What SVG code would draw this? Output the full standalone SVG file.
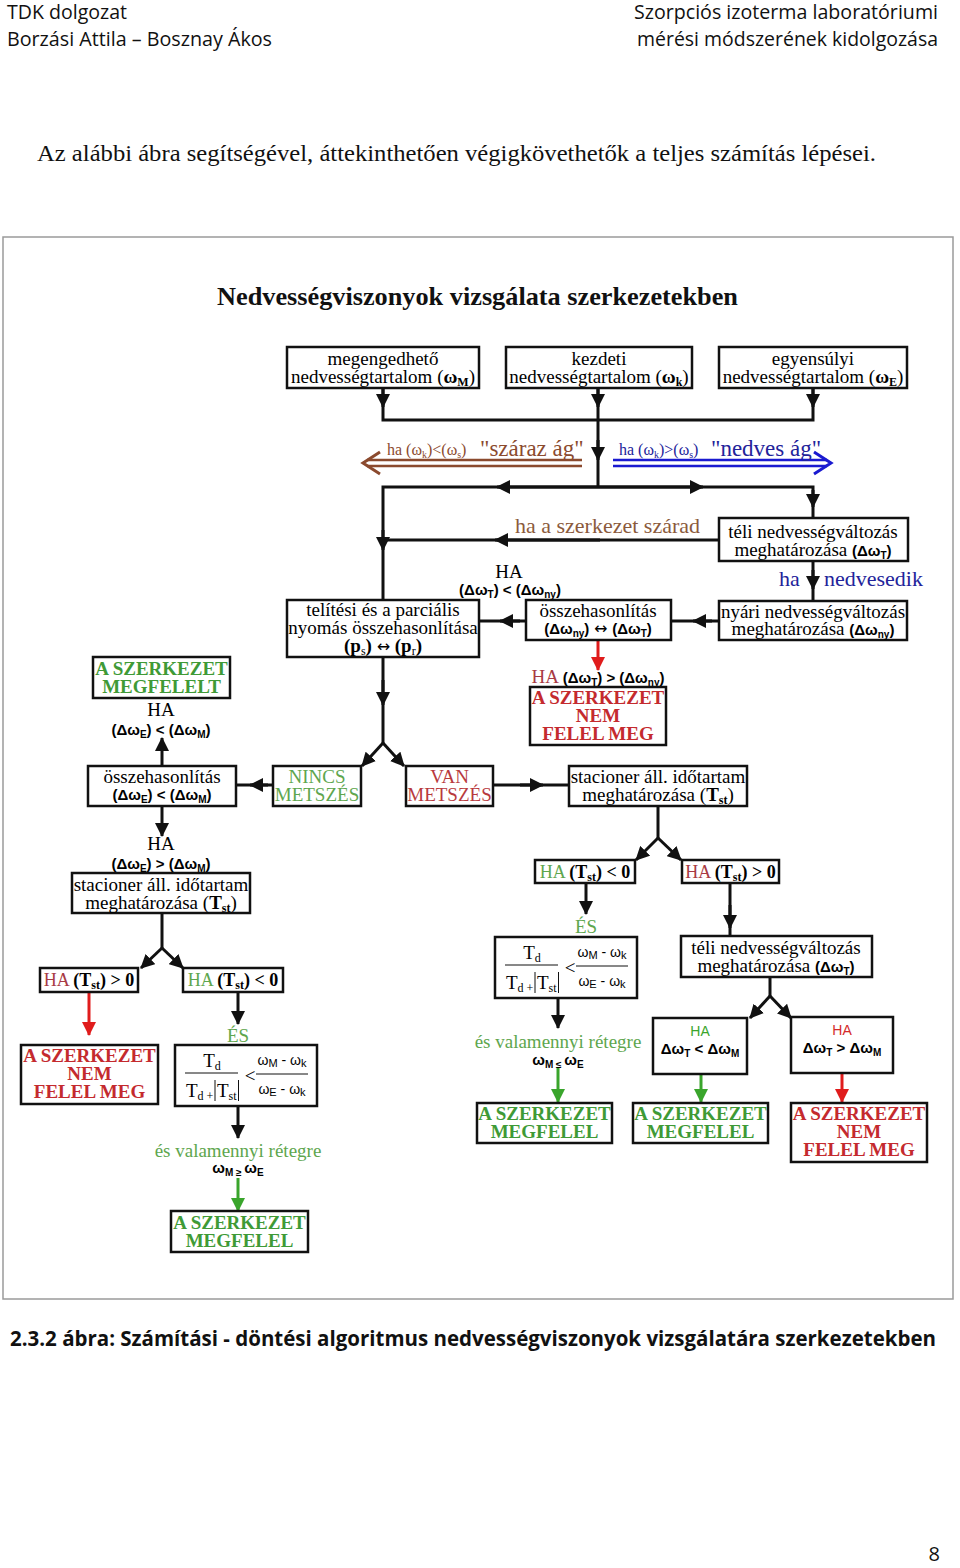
<svg xmlns="http://www.w3.org/2000/svg" width="960" height="1568" viewBox="0 0 960 1568">
<style>
.s{font-family:"Liberation Serif",serif;font-size:19px;text-anchor:middle}
.b{font-family:"Liberation Sans",sans-serif;font-weight:bold;font-size:15px}
.f{font-family:"Liberation Sans",sans-serif;font-size:14px}
.arr{font-family:"DejaVu Sans",sans-serif;font-size:16px;font-weight:normal}
.box{fill:#fff;stroke:#111;stroke-width:2.5}
.c{stroke:#111;stroke-width:3;fill:none}
.cr{stroke:#e01c1c;stroke-width:3;fill:none}
.cg{stroke:#3aa52c;stroke-width:3;fill:none}
.ok{fill:#3f9a36;font-weight:bold}
.no{fill:#c42a2e;font-weight:bold}
.gr{fill:#5ea64e}
.rd{fill:#b83a3e}
.hd{font-family:"Open Sans","Liberation Sans",sans-serif;font-size:20px;fill:#111}
</style>
<defs>
<marker id="ah" markerUnits="userSpaceOnUse" viewBox="0 0 14 14" markerWidth="14" markerHeight="14" refX="13" refY="7" orient="auto"><path d="M0,0 L14,7 L0,14 Z" fill="#111"/></marker>
<marker id="ahr" markerUnits="userSpaceOnUse" viewBox="0 0 14 14" markerWidth="14" markerHeight="14" refX="13" refY="7" orient="auto"><path d="M0,0 L14,7 L0,14 Z" fill="#e01c1c"/></marker>
<marker id="ahg" markerUnits="userSpaceOnUse" viewBox="0 0 14 14" markerWidth="14" markerHeight="14" refX="13" refY="7" orient="auto"><path d="M0,0 L14,7 L0,14 Z" fill="#3aa52c"/></marker>
</defs>
<rect width="960" height="1568" fill="#fff"/>

<g id="header">
<text class="hd" x="7" y="19" textLength="120" lengthAdjust="spacingAndGlyphs">TDK dolgozat</text>
<text class="hd" x="7" y="46" textLength="265" lengthAdjust="spacingAndGlyphs">Borzási Attila – Bosznay Ákos</text>
<text class="hd" x="634" y="19" textLength="304" lengthAdjust="spacingAndGlyphs">Szorpciós izoterma laboratóriumi</text>
<text class="hd" x="637" y="46" textLength="301" lengthAdjust="spacingAndGlyphs">mérési módszerének kidolgozása</text>
<text x="37" y="161" font-family="Liberation Serif,serif" font-size="24" fill="#111" textLength="839" lengthAdjust="spacingAndGlyphs">Az alábbi ábra segítségével, áttekinthetően végigkövethetők a teljes számítás lépései.</text>
</g>

<rect id="frame" x="3" y="237" width="950" height="1062" fill="none" stroke="#9a9a9a" stroke-width="1.5"/>

<text id="title" x="217" y="305" font-family="Liberation Serif,serif" font-weight="bold" font-size="26" fill="#111" textLength="521" lengthAdjust="spacingAndGlyphs">Nedvességviszonyok vizsgálata szerkezetekben</text>

<g id="connectors">
<path class="c" d="M383,388 V420 H813 V388"/>
<path class="c" d="M598,388 V487"/>
<path class="c" d="M383,389 V407" marker-end="url(#ah)"/>
<path class="c" d="M598,389 V407" marker-end="url(#ah)"/>
<path class="c" d="M813,389 V407" marker-end="url(#ah)"/>
<path class="c" d="M598,440 V460" marker-end="url(#ah)"/>
<path class="c" d="M383,600 V487 H813 V518"/>
<path class="c" d="M598,487 H497" marker-end="url(#ah)"/>
<path class="c" d="M598,487 H703" marker-end="url(#ah)"/>
<path class="c" d="M813,490 V507" marker-end="url(#ah)"/>
<path class="c" d="M719,540 H383"/>
<path class="c" d="M600,540 H495" marker-end="url(#ah)"/>
<path class="c" d="M383,530 V550" marker-end="url(#ah)"/>
<path class="c" d="M813,561 V601"/>
<path class="c" d="M813,570 V589" marker-end="url(#ah)"/>
<path class="c" d="M719,621 H671"/>
<path class="c" d="M712,621 H693" marker-end="url(#ah)"/>
<path class="c" d="M526,621 H479"/>
<path class="c" d="M520,621 H500" marker-end="url(#ah)"/>
<path class="cr" d="M598,640 V670" marker-end="url(#ahr)"/>
<path class="c" d="M383,657 V743"/>
<path class="c" d="M383,680 V705" marker-end="url(#ah)"/>
<path class="c" d="M383,743 L362,766" marker-end="url(#ah)"/>
<path class="c" d="M383,743 L404,766" marker-end="url(#ah)"/>
<path class="c" d="M273,785 H236"/>
<path class="c" d="M268,785 H250" marker-end="url(#ah)"/>
<path class="c" d="M162,766 V738" marker-end="url(#ah)"/>
<path class="c" d="M162,806 V836" marker-end="url(#ah)"/>
<path class="c" d="M493,785 H569"/>
<path class="c" d="M520,785 H543" marker-end="url(#ah)"/>
<path class="c" d="M162,913 V948"/>
<path class="c" d="M162,948 L141,968" marker-end="url(#ah)"/>
<path class="c" d="M162,948 L183,968" marker-end="url(#ah)"/>
<path class="cr" d="M89,992 V1035" marker-end="url(#ahr)"/>
<path class="c" d="M238,992 V1024" marker-end="url(#ah)"/>
<path class="c" d="M238,1106 V1138" marker-end="url(#ah)"/>
<path class="cg" d="M238,1178 V1211" marker-end="url(#ahg)"/>
<path class="c" d="M658,806 V838"/>
<path class="c" d="M658,838 L636,860" marker-end="url(#ah)"/>
<path class="c" d="M658,838 L681,860" marker-end="url(#ah)"/>
<path class="c" d="M586,883 V914" marker-end="url(#ah)"/>
<path class="c" d="M730,883 V936"/>
<path class="c" d="M730,905 V928" marker-end="url(#ah)"/>
<path class="c" d="M558,998 V1028" marker-end="url(#ah)"/>
<path class="cg" d="M558,1068 V1102" marker-end="url(#ahg)"/>
<path class="c" d="M770,977 V996"/>
<path class="c" d="M770,996 L750,1018" marker-end="url(#ah)"/>
<path class="c" d="M770,996 L791,1018" marker-end="url(#ah)"/>
<path class="cg" d="M701,1074 V1102" marker-end="url(#ahg)"/>
<path class="cr" d="M842,1073 V1102" marker-end="url(#ahr)"/>
</g>

<g id="branch-dry">
<path d="M582,460 H367 M582,466 H367" stroke="#8b4a2e" stroke-width="2.5" fill="none"/>
<polyline points="380,452 363,463 380,474" stroke="#8b4a2e" stroke-width="3" fill="none"/>
<text x="387" y="455" font-family="Liberation Serif,serif" font-size="16" fill="#8b4a2e">ha (ω<tspan font-size="10" dy="3">k</tspan><tspan dy="-3">)&lt;(ω</tspan><tspan font-size="10" dy="3">s</tspan><tspan dy="-3">)</tspan></text>
<text x="480" y="456" font-family="Liberation Serif,serif" font-size="23" fill="#8b4a2e">"száraz ág"</text>
</g>
<g id="branch-wet">
<path d="M613,460 H827 M613,466 H827" stroke="#1a1ad0" stroke-width="2.5" fill="none"/>
<polyline points="814,452 831,463 814,474" stroke="#1a1ad0" stroke-width="3" fill="none"/>
<text x="619" y="455" font-family="Liberation Serif,serif" font-size="16" fill="#23239a">ha (ω<tspan font-size="10" dy="3">k</tspan><tspan dy="-3">)&gt;(ω</tspan><tspan font-size="10" dy="3">s</tspan><tspan dy="-3">)</tspan></text>
<text x="711" y="456" font-family="Liberation Serif,serif" font-size="23" fill="#23239a">"nedves ág"</text>
</g>
<text id="lbl-szarad" x="515" y="533" font-family="Liberation Serif,serif" font-size="22" fill="#8b5a3c">ha a szerkezet szárad</text>
<g id="lbl-nedvesedik" font-family="Liberation Serif,serif" font-size="22" fill="#23239a">
<text x="779" y="586">ha</text><text x="824" y="586">nedvesedik</text>
</g>

<g id="n-wM"><rect class="box" x="287" y="347" width="192" height="41"/>
<text class="s" x="383" y="365">megengedhető</text>
<text class="s" x="383" y="383">nedvességtartalom (<tspan font-weight="bold">ω</tspan><tspan font-size="12" font-weight="bold" dy="3">M</tspan><tspan dy="-3">)</tspan></text></g>
<g id="n-wk"><rect class="box" x="506" y="347" width="186" height="41"/>
<text class="s" x="599" y="365">kezdeti</text>
<text class="s" x="599" y="383">nedvességtartalom (<tspan font-weight="bold">ω</tspan><tspan font-size="12" font-weight="bold" dy="3">k</tspan><tspan dy="-3">)</tspan></text></g>
<g id="n-wE"><rect class="box" x="719" y="347" width="188" height="41"/>
<text class="s" x="813" y="365">egyensúlyi</text>
<text class="s" x="813" y="383">nedvességtartalom (<tspan font-weight="bold">ω</tspan><tspan font-size="12" font-weight="bold" dy="3">E</tspan><tspan dy="-3">)</tspan></text></g>

<g id="n-teli1"><rect class="box" x="719" y="518" width="189" height="43"/>
<text class="s" x="813" y="538">téli nedvességváltozás</text>
<text class="s" x="813" y="556">meghatározása <tspan class="b">(Δω<tspan font-size="10" dy="3">T</tspan><tspan dy="-3">)</tspan></tspan></text></g>
<g id="n-nyari"><rect class="box" x="719" y="601" width="188" height="39"/>
<text class="s" x="813" y="618">nyári nedvességváltozás</text>
<text class="s" x="813" y="635">meghatározása <tspan class="b">(Δω<tspan font-size="10" dy="3">ny</tspan><tspan dy="-3">)</tspan></tspan></text></g>
<g id="n-ossz1"><rect class="box" x="526" y="600" width="145" height="40"/>
<text class="s" x="598" y="617">összehasonlítás</text>
<text class="s" x="598" y="634"><tspan class="b">(Δω<tspan font-size="10" dy="3">ny</tspan><tspan dy="-3">)</tspan></tspan> <tspan class="arr">↔</tspan> <tspan class="b">(Δω<tspan font-size="10" dy="3">T</tspan><tspan dy="-3">)</tspan></tspan></text></g>
<g id="lbl-ha1">
<text class="s" x="509" y="578">HA</text>
<text class="b" x="510" y="595" text-anchor="middle">(Δω<tspan font-size="10" dy="3">T</tspan><tspan dy="-3">) &lt; (Δω</tspan><tspan font-size="10" dy="3">ny</tspan><tspan dy="-3">)</tspan></text>
</g>
<g id="n-telitesi"><rect class="box" x="287" y="600" width="192" height="57"/>
<text class="s" x="383" y="616">telítési és a parciális</text>
<text class="s" x="383" y="634">nyomás összehasonlítása</text>
<text class="s" x="383" y="652"><tspan font-weight="bold">(p</tspan><tspan font-size="12" dy="3">s</tspan><tspan font-weight="bold" dy="-3">)</tspan> <tspan class="arr">↔</tspan> <tspan font-weight="bold">(p</tspan><tspan font-size="12" dy="3">r</tspan><tspan font-weight="bold" dy="-3">)</tspan></text></g>

<g id="lbl-ha2"><text class="s" x="598" y="683"><tspan fill="#a83a44">HA</tspan> <tspan class="b">(Δω<tspan font-size="10" dy="3">T</tspan><tspan dy="-3">) &gt; (Δω</tspan><tspan font-size="10" dy="3">ny</tspan><tspan dy="-3">)</tspan></tspan></text></g>
<g id="n-nem1"><rect class="box" x="530" y="687" width="136" height="58"/>
<text class="s no" x="598" y="704">A SZERKEZET</text>
<text class="s no" x="598" y="722">NEM</text>
<text class="s no" x="598" y="740">FELEL MEG</text></g>

<g id="n-megfelelt"><rect class="box" x="93" y="657" width="137" height="41"/>
<text class="s ok" x="161.5" y="675">A SZERKEZET</text>
<text class="s ok" x="161.5" y="693">MEGFELELT</text></g>
<g id="lbl-ha3">
<text class="s" x="161" y="716">HA</text>
<text class="b" x="161" y="735" text-anchor="middle">(Δω<tspan font-size="10" dy="3">E</tspan><tspan dy="-3">) &lt; (Δω</tspan><tspan font-size="10" dy="3">M</tspan><tspan dy="-3">)</tspan></text>
</g>
<g id="n-ossz2"><rect class="box" x="88" y="766" width="148" height="40"/>
<text class="s" x="162" y="783">összehasonlítás</text>
<text class="b" x="162" y="800" text-anchor="middle">(Δω<tspan font-size="10" dy="3">E</tspan><tspan dy="-3">) &lt; (Δω</tspan><tspan font-size="10" dy="3">M</tspan><tspan dy="-3">)</tspan></text></g>
<g id="n-nincs"><rect class="box" x="273" y="766" width="88" height="40"/>
<text class="s gr" x="317" y="783">NINCS</text>
<text class="s gr" x="317" y="801">METSZÉS</text></g>
<g id="n-van"><rect class="box" x="406" y="766" width="87" height="40"/>
<text class="s rd" x="449.5" y="783">VAN</text>
<text class="s rd" x="449.5" y="801">METSZÉS</text></g>
<g id="n-stac2"><rect class="box" x="569" y="766" width="178" height="40"/>
<text class="s" x="658" y="783">stacioner áll. időtartam</text>
<text class="s" x="658" y="801">meghatározása (<tspan font-weight="bold">T</tspan><tspan font-size="12" font-weight="bold" dy="3">st</tspan><tspan dy="-3">)</tspan></text></g>

<g id="lbl-ha4">
<text class="s" x="161" y="850">HA</text>
<text class="b" x="161" y="869" text-anchor="middle">(Δω<tspan font-size="10" dy="3">E</tspan><tspan dy="-3">) &gt; (Δω</tspan><tspan font-size="10" dy="3">M</tspan><tspan dy="-3">)</tspan></text>
</g>
<g id="n-stac1"><rect class="box" x="72" y="873" width="178" height="40"/>
<text class="s" x="161" y="891">stacioner áll. időtartam</text>
<text class="s" x="161" y="909">meghatározása (<tspan font-weight="bold">T</tspan><tspan font-size="12" font-weight="bold" dy="3">st</tspan><tspan dy="-3">)</tspan></text></g>

<g id="n-tpos1"><rect class="box" x="40" y="968" width="98" height="24"/>
<text class="s" x="89" y="986" style="font-size:18px"><tspan fill="#a83a44">HA</tspan> <tspan font-weight="bold">(T</tspan><tspan font-weight="bold" font-size="12" dy="3">st</tspan><tspan font-weight="bold" dy="-3">) &gt; 0</tspan></text></g>
<g id="n-tneg1"><rect class="box" x="183" y="968" width="100" height="24"/>
<text class="s" x="233" y="986" style="font-size:18px"><tspan fill="#5ea64e">HA</tspan> <tspan font-weight="bold">(T</tspan><tspan font-weight="bold" font-size="12" dy="3">st</tspan><tspan font-weight="bold" dy="-3">) &lt; 0</tspan></text></g>
<g id="n-nem2"><rect class="box" x="21" y="1045" width="137" height="59"/>
<text class="s no" x="89.5" y="1062">A SZERKEZET</text>
<text class="s no" x="89.5" y="1080">NEM</text>
<text class="s no" x="89.5" y="1098">FELEL MEG</text></g>
<text id="lbl-es1" class="s gr" x="238" y="1042">ÉS</text>
<g id="n-frac1"><rect class="box" x="175" y="1045" width="142" height="61"/>
<text class="s" x="212" y="1067">T<tspan font-size="12" dy="3">d</tspan></text>
<line x1="185" y1="1073" x2="238" y2="1073" stroke="#111" stroke-width="1"/>
<text class="s" x="186" y="1097" style="text-anchor:start">T<tspan font-size="12" dy="3">d +</tspan></text>
<line x1="215" y1="1080" x2="215" y2="1101" stroke="#111" stroke-width="1"/>
<text class="s" x="217" y="1097" style="text-anchor:start">T<tspan font-size="12" dy="3">st</tspan></text>
<line x1="238.5" y1="1080" x2="238.5" y2="1101" stroke="#111" stroke-width="1"/>
<text class="s" x="250" y="1082">&lt;</text>
<text class="f" x="282" y="1065" text-anchor="middle">ω<tspan font-size="11" dy="2">M</tspan><tspan dy="-2"> - ω</tspan><tspan font-size="11" dy="2">k</tspan></text>
<line x1="256" y1="1074" x2="308" y2="1074" stroke="#111" stroke-width="1"/>
<text class="f" x="282" y="1094" text-anchor="middle">ω<tspan font-size="11" dy="2">E</tspan><tspan dy="-2"> - ω</tspan><tspan font-size="11" dy="2">k</tspan></text></g>
<g id="lbl-valamennyi1">
<text class="s gr" x="238" y="1157">és valamennyi rétegre</text>
<text class="b" x="238" y="1173" text-anchor="middle">ω<tspan font-size="10" dy="3">M ≥ </tspan><tspan dy="-3">ω</tspan><tspan font-size="10" dy="3">E</tspan></text>
</g>
<g id="n-ok1"><rect class="box" x="171" y="1211" width="137" height="41"/>
<text class="s ok" x="239.5" y="1229">A SZERKEZET</text>
<text class="s ok" x="239.5" y="1247">MEGFELEL</text></g>

<g id="n-tneg2"><rect class="box" x="535" y="860" width="100" height="23"/>
<text class="s" x="585" y="878" style="font-size:18px"><tspan fill="#5ea64e">HA</tspan> <tspan font-weight="bold">(T</tspan><tspan font-weight="bold" font-size="12" dy="3">st</tspan><tspan font-weight="bold" dy="-3">) &lt; 0</tspan></text></g>
<g id="n-tpos2"><rect class="box" x="682" y="860" width="97" height="23"/>
<text class="s" x="730.5" y="878" style="font-size:18px"><tspan fill="#a83a44">HA</tspan> <tspan font-weight="bold">(T</tspan><tspan font-weight="bold" font-size="12" dy="3">st</tspan><tspan font-weight="bold" dy="-3">) &gt; 0</tspan></text></g>
<text id="lbl-es2" class="s gr" x="586" y="933">ÉS</text>
<g id="n-frac2" transform="translate(320,-108)"><rect class="box" x="175" y="1045" width="142" height="61"/>
<text class="s" x="212" y="1067">T<tspan font-size="12" dy="3">d</tspan></text>
<line x1="185" y1="1073" x2="238" y2="1073" stroke="#111" stroke-width="1"/>
<text class="s" x="186" y="1097" style="text-anchor:start">T<tspan font-size="12" dy="3">d +</tspan></text>
<line x1="215" y1="1080" x2="215" y2="1101" stroke="#111" stroke-width="1"/>
<text class="s" x="217" y="1097" style="text-anchor:start">T<tspan font-size="12" dy="3">st</tspan></text>
<line x1="238.5" y1="1080" x2="238.5" y2="1101" stroke="#111" stroke-width="1"/>
<text class="s" x="250" y="1082">&lt;</text>
<text class="f" x="282" y="1065" text-anchor="middle">ω<tspan font-size="11" dy="2">M</tspan><tspan dy="-2"> - ω</tspan><tspan font-size="11" dy="2">k</tspan></text>
<line x1="256" y1="1074" x2="308" y2="1074" stroke="#111" stroke-width="1"/>
<text class="f" x="282" y="1094" text-anchor="middle">ω<tspan font-size="11" dy="2">E</tspan><tspan dy="-2"> - ω</tspan><tspan font-size="11" dy="2">k</tspan></text></g>
<g id="lbl-valamennyi2">
<text class="s gr" x="558" y="1048">és valamennyi rétegre</text>
<text class="b" x="558" y="1065" text-anchor="middle">ω<tspan font-size="10" dy="3">M ≤ </tspan><tspan dy="-3">ω</tspan><tspan font-size="10" dy="3">E</tspan></text>
</g>
<g id="n-ok2"><rect class="box" x="477" y="1103" width="135" height="40"/>
<text class="s ok" x="544.5" y="1120">A SZERKEZET</text>
<text class="s ok" x="544.5" y="1138">MEGFELEL</text></g>

<g id="n-teli2"><rect class="box" x="681" y="936" width="191" height="41"/>
<text class="s" x="776" y="954">téli nedvességváltozás</text>
<text class="s" x="776" y="972">meghatározása <tspan class="b">(Δω<tspan font-size="10" dy="3">T</tspan><tspan dy="-3">)</tspan></tspan></text></g>
<g id="n-haL"><rect class="box" x="653" y="1018" width="94" height="56"/>
<text class="f" x="700" y="1036" text-anchor="middle" font-size="15" fill="#3aa52c">HA</text>
<text class="b" x="700" y="1054" text-anchor="middle">Δω<tspan font-size="10" dy="3">T</tspan><tspan dy="-3"> &lt; Δω</tspan><tspan font-size="10" dy="3">M</tspan></text></g>
<g id="n-haR"><rect class="box" x="791" y="1017" width="102" height="56"/>
<text class="f" x="842" y="1035" text-anchor="middle" font-size="15" fill="#d42a2a">HA</text>
<text class="b" x="842" y="1053" text-anchor="middle">Δω<tspan font-size="10" dy="3">T</tspan><tspan dy="-3"> &gt; Δω</tspan><tspan font-size="10" dy="3">M</tspan></text></g>
<g id="n-ok3"><rect class="box" x="633" y="1103" width="135" height="40"/>
<text class="s ok" x="700.5" y="1120">A SZERKEZET</text>
<text class="s ok" x="700.5" y="1138">MEGFELEL</text></g>
<g id="n-nem3"><rect class="box" x="791" y="1103" width="136" height="59"/>
<text class="s no" x="859" y="1120">A SZERKEZET</text>
<text class="s no" x="859" y="1138">NEM</text>
<text class="s no" x="859" y="1156">FELEL MEG</text></g>

<g id="footer">
<text x="10" y="1346" font-family="Open Sans,Liberation Sans,sans-serif" font-weight="bold" font-size="21" fill="#111" textLength="926" lengthAdjust="spacingAndGlyphs">2.3.2 ábra: Számítási - döntési algoritmus nedvességviszonyok vizsgálatára szerkezetekben</text>
<text x="940" y="1561" font-family="Open Sans,Liberation Sans,sans-serif" font-size="20" fill="#111" text-anchor="end">8</text>
</g>
</svg>
